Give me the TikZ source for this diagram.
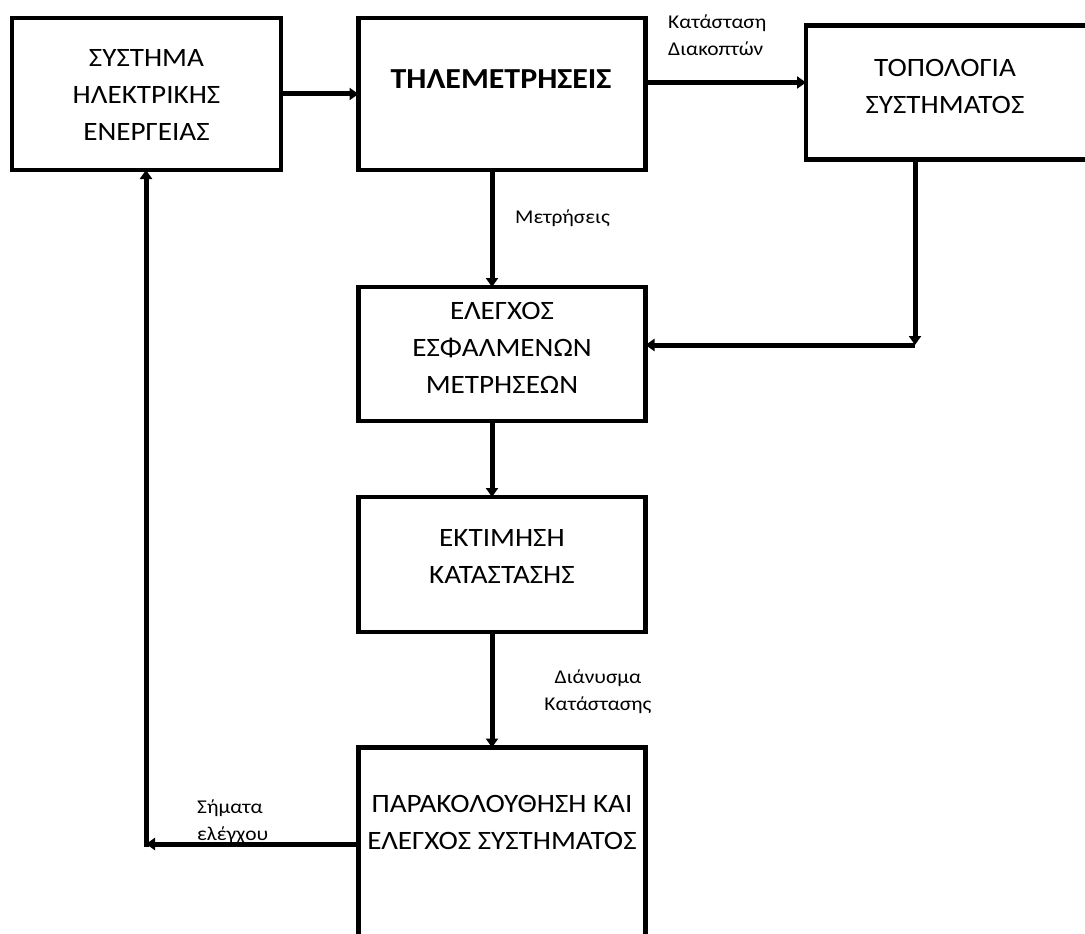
\documentclass[tikz,border=0pt]{standalone}
\usepackage{fontspec}
\setmainfont{Carlito}[FakeStretch=1.1]
\usetikzlibrary{arrows.meta}

\tikzset{
  blockbox/.style={draw, line width=4.5pt, rectangle, inner sep=0pt, outer sep=0pt},
  boxtext/.style={align=center, inner sep=0pt, font=\fontsize{26.5}{37}\selectfont},
  flowlabel/.style={inner sep=0pt, font=\fontsize{19.5}{27}\selectfont},
  arr/.style={line width=5pt, -{Triangle[length=9pt,width=12pt]}}
}

\begin{document}
\begin{tikzpicture}[x=1pt,y=-1pt]
  \clip (0,0) rectangle (1085,934);
  \fill[white] (0,0) rectangle (1085,934);

  % blocks (centre positions, sizes along the stroke centre line)
  \node[blockbox, minimum width=269pt, minimum height=152pt] (b1) at (146.5,94) {};
  \node[blockbox, minimum width=287pt, minimum height=152pt] (b2) at (502,94) {};
  \node[blockbox, minimum width=300pt, minimum height=134pt] (b3) at (956,92.5) {};
  \node[blockbox, minimum width=287pt, minimum height=134pt] (b4) at (502,354) {};
  \node[blockbox, minimum width=287pt, minimum height=135pt] (b5) at (502,564.5) {};
  \node[blockbox, minimum width=287pt, minimum height=260pt] (b6) at (502,877.5) {};

  % block texts
  \node[boxtext] (t1) at (146.5,95) {ΣΥΣΤΗΜΑ\\ΗΛΕΚΤΡΙΚΗΣ\\ΕΝΕΡΓΕΙΑΣ};
  \node[boxtext, font=\fontsize{29}{37}\selectfont\bfseries] (t2) at (501,79) {ΤΗΛΕΜΕΤΡΗΣΕΙΣ};
  \node[boxtext] (t3) at (945,86) {ΤΟΠΟΛΟΓΙΑ\\ΣΥΣΤΗΜΑΤΟΣ};
  \node[boxtext] (t4) at (502,348) {ΕΛΕΓΧΟΣ\\ΕΣΦΑΛΜΕΝΩΝ\\ΜΕΤΡΗΣΕΩΝ};
  \node[boxtext] (t5) at (502,556.5) {ΕΚΤΙΜΗΣΗ\\ΚΑΤΑΣΤΑΣΗΣ};
  \node[boxtext] (t6) at (502,822.5) {ΠΑΡΑΚΟΛΟΥΘΗΣΗ ΚΑΙ\\ΕΛΕΓΧΟΣ ΣΥΣΤΗΜΑΤΟΣ};

  % corner points of the routed connectors
  \coordinate (c1) at (915,345);
  \coordinate (c2) at (146,844);

  % connectors
  \draw[arr] (b1.east) -- (b1.east -| b2.west);
  \draw[arr] ([yshift=11.5pt]b2.east) coordinate (s2) -- (s2 -| b3.west);
  \draw[arr] ([xshift=-10pt]b2.south) coordinate (s3) -- (s3 |- b4.north);
  \draw[arr] (c1 |- b3.south) -- (c1);
  \draw[arr] (c1) -- (c1 -| b4.east);
  \draw[arr] ([xshift=-10pt]b4.south) coordinate (s4) -- (s4 |- b5.north);
  \draw[arr] ([xshift=-10pt]b5.south) coordinate (s5) -- (s5 |- b6.north);
  \draw[arr] (b6.west |- c2) -- (c2);
  \draw[arr] ([yshift=-2.5pt]c2) -- (c2 |- b1.south);

  % connector labels (anchored at the baseline of their last line)
  \node[flowlabel, align=left, anchor=base west] (l1) at (668,56) {Κατάσταση\\Διακοπτών};
  \node[flowlabel, anchor=base west] (l2) at (515,223) {Μετρήσεις};
  \node[flowlabel, align=center, anchor=base] (l3) at (598,710) {Διάνυσμα\\Κατάστασης};
  \node[flowlabel, align=left, anchor=base west] (l4) at (197,840) {Σήματα\\ελέγχου};
\end{tikzpicture}
\end{document}
